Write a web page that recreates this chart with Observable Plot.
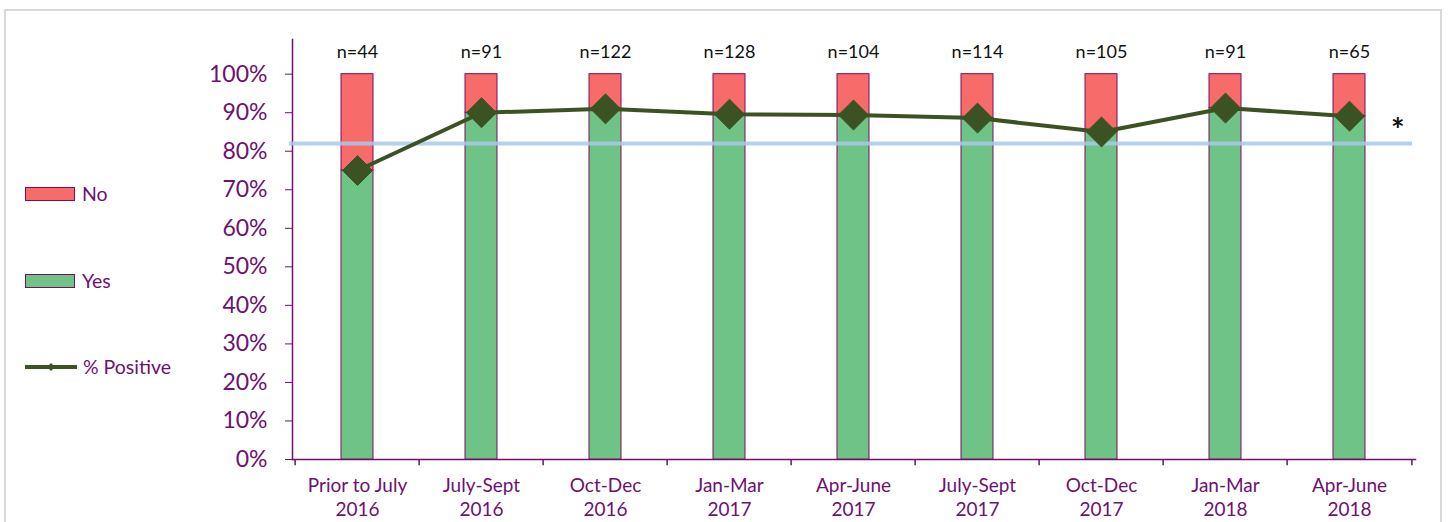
<!DOCTYPE html>
<html>
<head>
<meta charset="utf-8">
<script src="https://cdn.jsdelivr.net/npm/d3@7"></script>
<script src="https://cdn.jsdelivr.net/npm/@observablehq/plot@0.6"></script>
<style>
  html, body { margin: 0; padding: 0; background: #fff; }
  #wrap { position: relative; width: 1448px; height: 522px; overflow: hidden; font-family: Lato, "Open Sans", sans-serif; }
  #border { position: absolute; left: 4px; top: 9px; width: 1438px; height: 540px; border: 2px solid #d9d9d9; box-sizing: border-box; pointer-events: none; }
  .leg { position: absolute; left: 25px; display: flex; align-items: center; color: #6e1170; font-size: 19.5px; }
  .sw { width: 48px; height: 12px; border: 1px solid #7a0e5e; margin-right: 7px; }
</style>
</head>
<body>
<div id="wrap">
  <div id="chart"></div>
  <div id="legend"></div>
  <div id="border"></div>
</div>
<script>
const categories = ["Prior to July\n2016", "July-Sept\n2016", "Oct-Dec\n2016", "Jan-Mar\n2017", "Apr-June\n2017", "July-Sept\n2017", "Oct-Dec\n2017", "Jan-Mar\n2018", "Apr-June\n2018"];
const nCounts = [44, 91, 122, 128, 104, 114, 105, 91, 65];
const pctPositive = [75, 90, 91, 89.6, 89.4, 88.6, 85, 91.2, 89.1];
const benchmark = 82;
const yTicks = [0, 10, 20, 30, 40, 50, 60, 70, 80, 90, 100];
const seriesNames = ["No", "Yes", "% Positive"];

const colNo = "#f86b6b", colYes = "#6fc386", colLine = "#3b5323", colBench = "#a9c9e8", colPurple = "#6e1170", colBarStroke = "#7a0e5e";

const rows = categories.map((c, i) => ({cat: c, n: nCounts[i], yes: pctPositive[i]}));

const W = 1448, H = 522, mL = 292, mR = 33, mT = 39, mB = 63;
const step = (W - mL - mR) / categories.length;

const chart = Plot.plot({
  width: W, height: H,
  marginLeft: mL, marginRight: mR, marginTop: mT, marginBottom: mB,
  style: {fontFamily: "Lato, 'Open Sans', sans-serif", background: "transparent", overflow: "visible"},
  x: {type: "band", domain: categories, paddingInner: 0.74, paddingOuter: 0.37},
  y: {domain: [0, 109]},
  marks: [
    Plot.frame({anchor: "left", stroke: colPurple, strokeWidth: 1.5}),
    Plot.frame({anchor: "bottom", stroke: colPurple, strokeWidth: 1.5}),
    Plot.axisY({ticks: yTicks, tickFormat: d => d + "%", tickSize: 7, tickPadding: 18, fontSize: 23, color: colPurple, label: null}),
    Plot.axisX({tickSize: 0, tickPadding: 15, fontSize: 19, lineHeight: 1.27, color: colPurple, label: null}),
    Plot.ruleX(categories, {x: d => d, dx: -step / 2, y1: 0, y2: -1.6, stroke: colPurple, strokeWidth: 1.5}),
    Plot.ruleX([categories[categories.length - 1]], {x: d => d, dx: step / 2, y1: 0, y2: -1.6, stroke: colPurple, strokeWidth: 1.5}),
    Plot.barY(rows, {x: "cat", y1: 0, y2: "yes", fill: colYes, stroke: colBarStroke, strokeWidth: 1}),
    Plot.barY(rows, {x: "cat", y1: "yes", y2: 100, fill: colNo, stroke: colBarStroke, strokeWidth: 1}),
    Plot.ruleY([benchmark], {stroke: colBench, strokeWidth: 4, strokeOpacity: 0.85, dx: -3}),
    Plot.line(rows, {x: "cat", y: "yes", stroke: colLine, strokeWidth: 4}),
    Plot.dot(rows, {x: "cat", y: "yes", symbol: "diamond2", r: 13.5, fill: colLine, stroke: colLine, strokeWidth: 1}),
    Plot.text(rows, {x: "cat", y: 100, text: d => "n=" + d.n, dy: -22, fontSize: 18, fill: "#111"}),
    Plot.text(["*"], {frameAnchor: "right", y: 87, text: d => d, dx: -11, dy: 7, fontSize: 32, fontWeight: "bold", fill: "#111"})
  ]
});
document.getElementById("chart").appendChild(chart);

const legend = document.getElementById("legend");
const legTops = [182, 269, 355];
seriesNames.forEach((name, i) => {
  const div = document.createElement("div");
  div.className = "leg";
  div.style.top = legTops[i] + "px";
  let sw;
  if (i < 2) {
    sw = `<div class="sw" style="background:${i === 0 ? colNo : colYes}"></div>`;
  } else {
    sw = `<svg width="52" height="14" style="margin-right:6px"><line x1="0" y1="7" x2="52" y2="7" stroke="${colLine}" stroke-width="4"/><path d="M26,3 L30,7 L26,11 L22,7Z" fill="${colLine}"/></svg>`;
  }
  div.innerHTML = sw + `<span>${name}</span>`;
  legend.appendChild(div);
});
</script>
</body>
</html>
